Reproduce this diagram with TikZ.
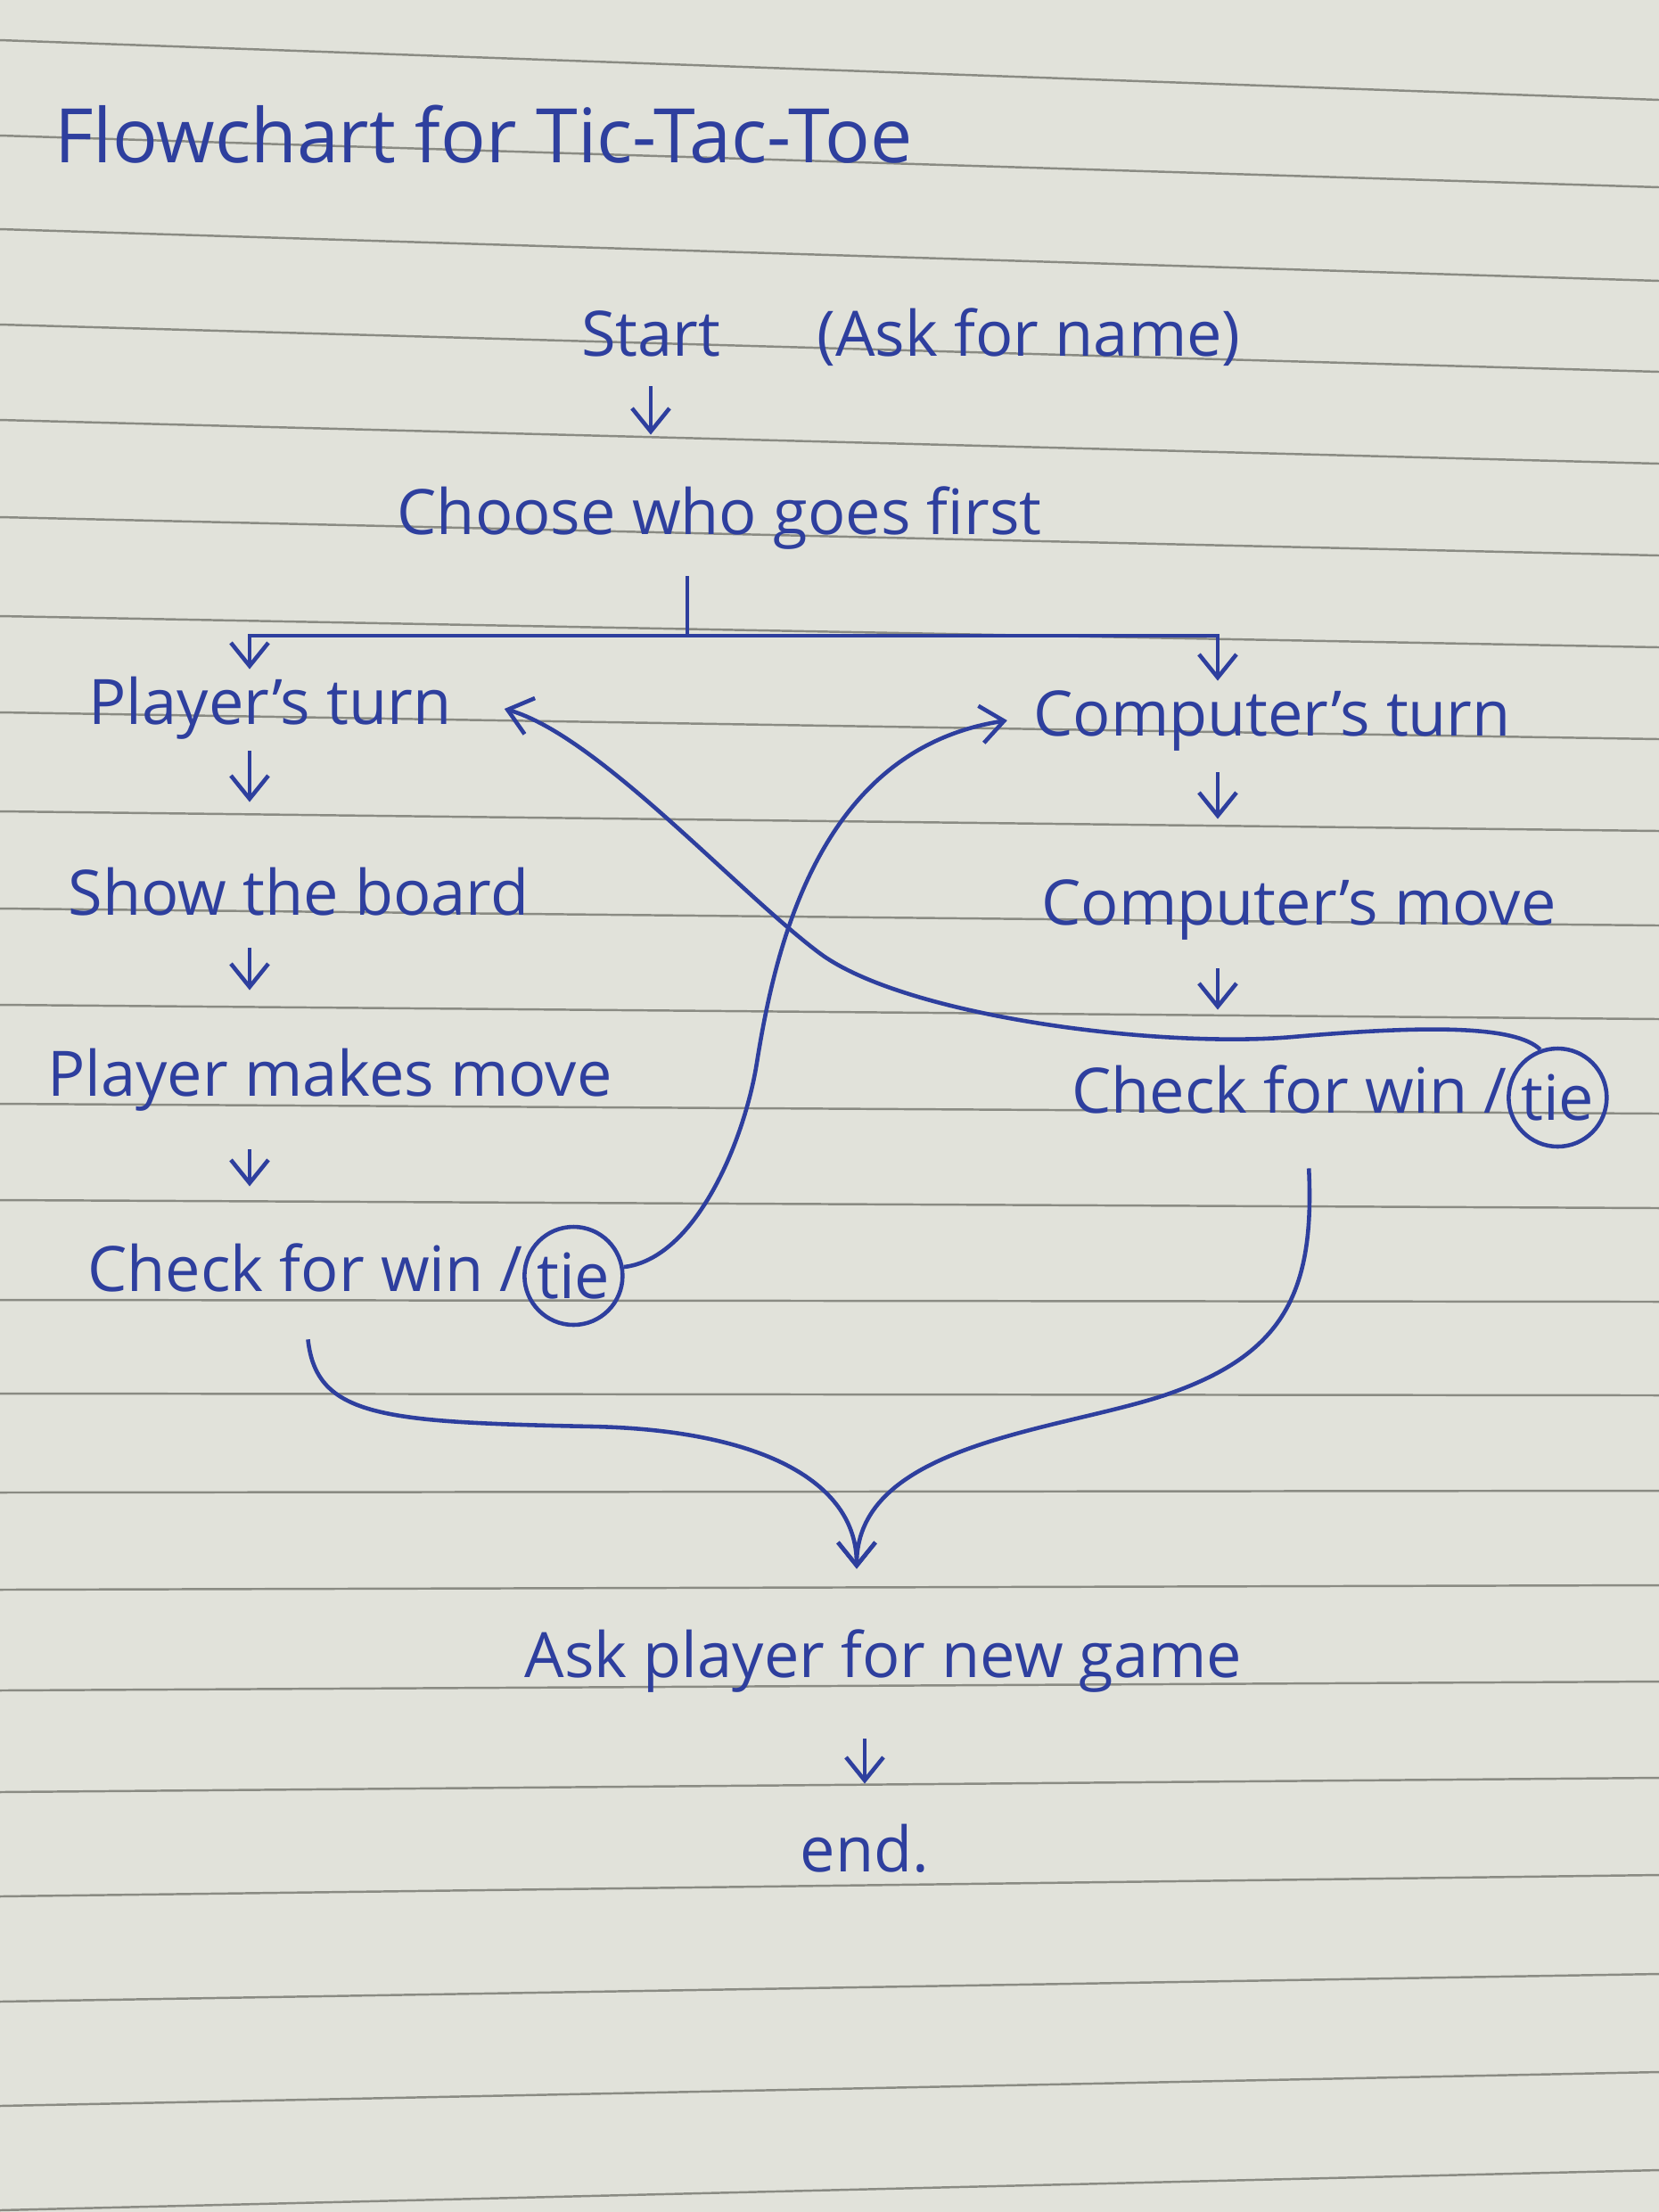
\documentclass[tikz,border=0pt]{standalone}
\usepackage{fontspec}
\setmainfont{Open Sans}
\usetikzlibrary{arrows.meta,positioning}

\definecolor{ink}{HTML}{2E3F9E}
\definecolor{paper}{HTML}{E1E2DA}
\definecolor{ruling}{HTML}{8A8B83}

\begin{document}
\begin{tikzpicture}[>={Straight Barb[length=2.6mm,width=4.2mm]},line width=1.3pt,
    node distance=0.9cm,
    label node/.style={text=ink,font=\fontsize{20}{24}\selectfont,text height=15pt,text depth=5pt,inner sep=2pt},
    tie node/.style={circle,draw=ink,line width=1.3pt,text=ink,font=\fontsize{20}{24}\selectfont,minimum size=1.1cm,inner sep=0pt}]

  % lined paper
  \fill[paper] (0,0) rectangle (18.61,-24.81);
  \useasboundingbox (0,0) rectangle (18.61,-24.81);
  \foreach \l/\r in {0.45/1.12,1.52/2.10,2.57/3.15,3.64/4.17,4.71/5.20,5.80/6.23,6.91/7.26,7.99/8.29,
      9.10/9.32,10.19/10.38,11.27/11.43,12.38/12.49,13.46/13.55,14.58/14.60,15.63/15.65,16.74/16.72,
      17.83/17.78,18.96/18.86,20.10/19.94,21.27/21.03,22.45/22.14,23.62/23.24,24.79/24.34}
    \draw[ruling,line width=0.7pt] (0,-\l) -- (18.61,-\r);

  \node[label node,anchor=west,font=\fontsize{24}{28}\selectfont] (title) at (0.52,-1.65) {Flowchart for Tic-Tac-Toe};

  \node[label node] (start) at (7.30,-3.82) {Start};
  \node[label node] (askname) [right=of start] {(Ask for name)};
  \node[label node] (choose) at (8.07,-5.82) {Choose who goes first};
  \node[label node] (pturn) at (3.03,-7.95) {Player's turn};
  \node[label node] (cturn) at (14.27,-8.08) {Computer's turn};
  \node[label node] (board) at (3.35,-10.09) {Show the board};
  \node[label node] (cmove) at (14.57,-10.20) {Computer's move};
  \node[label node] (pmove) at (3.70,-12.12) {Player makes move};
  \node[label node,anchor=west] (lcheck) at (0.89,-14.31) {Check for win /};
  \node[tie node] (ltie) [right=-1mm of lcheck] {tie};
  \node[label node,anchor=west] (rcheck) at (11.93,-12.31) {Check for win /};
  \node[tie node] (rtie) [right=-1mm of rcheck] {tie};
  \node[label node] (ask) at (9.91,-18.64) {Ask player for new game};
  \node[label node] (finish) at (9.70,-20.82) {end.};

  \coordinate (lcol) at (2.80,0);
  \coordinate (rcol) at (13.66,0);
  \coordinate (fork) at (7.71,-7.13);

  \draw[ink,->,shorten <=0.07cm,shorten >=0.5cm] (start.south) -- (start.south |- choose.north);
  \draw[ink,shorten <=0.2cm] (choose.south -| fork) -- (fork);
  \draw[ink,->] (fork) -- (fork -| lcol) -- (lcol |- pturn.north);
  \draw[ink,->] (fork) -- (fork -| rcol) -- (rcol |- cturn.north);

  \draw[ink,->,shorten <=0.03cm,shorten >=0.65cm] (pturn.south -| lcol) -- (board.north -| lcol);
  \draw[ink,->,shorten <=0.1cm,shorten >=0.57cm] (board.south -| lcol) -- (pmove.north -| lcol);
  \draw[ink,->,shorten <=0.33cm,shorten >=0.56cm] (pmove.south -| lcol) -- (lcheck.north -| lcol);
  \draw[ink,->,shorten <=0.14cm,shorten >=0.57cm] (cturn.south -| rcol) -- (cmove.north -| rcol);
  \draw[ink,->,shorten <=0.22cm,shorten >=0.54cm] (cmove.south -| rcol) -- (rcheck.north -| rcol);
  \draw[ink,->,shorten <=0.42cm,shorten >=0.37cm] (ask.south -| finish.north) -- (finish.north);

  \draw[ink,->] (rtie.110) .. controls (17.00,-11.50) and (16.00,-11.50) .. (14.50,-11.63)
    .. controls (13.00,-11.76) and (10.13,-11.40) .. (9.18,-10.68)
    .. controls (8.23,-9.96) and (6.70,-8.25) .. ([xshift=5mm]pturn.east);
  \draw[ink,->] (ltie.10) .. controls (7.80,-14.12) and (8.35,-12.80) .. (8.49,-11.92)
    .. controls (8.70,-10.60) and (9.20,-8.40) .. ([xshift=-2mm]cturn.west);

  \draw[ink,->,shorten <=0.27cm,shorten >=0.6cm] (lcheck.south) .. controls (3.55,-15.90) and (4.30,-15.95) .. (6.65,-16.00)
    .. controls (8.50,-16.04) and (9.61,-16.60) .. ([xshift=-3mm]ask.north);
  \draw[ink,->,shorten <=0.35cm,shorten >=0.6cm] ([xshift=2mm]rcheck.south) .. controls (14.75,-14.50) and (14.40,-15.20) .. (13.06,-15.65)
    .. controls (11.85,-16.05) and (9.61,-16.20) .. ([xshift=-3mm]ask.north);

\end{tikzpicture}
\end{document}
